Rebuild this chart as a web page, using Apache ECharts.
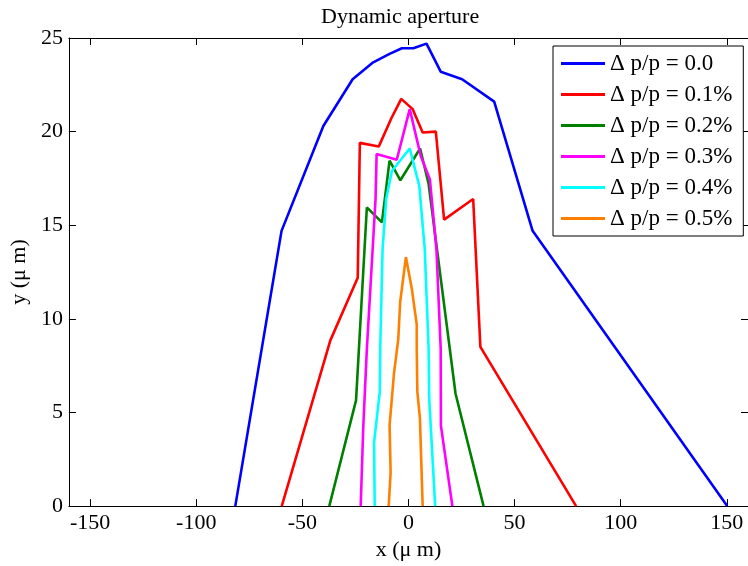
<!DOCTYPE html>
<html>
<head>
<meta charset="utf-8">
<script src="https://cdn.jsdelivr.net/npm/echarts@6/dist/echarts.min.js"></script>
<style>html,body{margin:0;padding:0;background:#fff}#c{width:748px;height:566px}</style>
</head>
<body>
<div id="c"></div>
<script>
var seriesNames = ['\u0394 p/p = 0.0', '\u0394 p/p = 0.1%', '\u0394 p/p = 0.2%', '\u0394 p/p = 0.3%', '\u0394 p/p = 0.4%', '\u0394 p/p = 0.5%'];
var dp00 = [[-81.6,0],[-59.8,14.7],[-40.1,20.3],[-26.3,22.8],[-16.6,23.7],[-8.9,24.15],[-3.1,24.45],[2.3,24.45],[8.5,24.7],[15.2,23.2],[25.3,22.8],[40.4,21.6],[58.5,14.7],[150.2,0]];
var dp01 = [[-59.7,0],[-36.8,8.85],[-23.9,12.2],[-22.9,19.4],[-14,19.2],[-8.1,20.7],[-3.4,21.75],[2,21.2],[6.7,19.95],[12.9,20],[16.8,15.3],[30.5,16.4],[33.9,8.5],[79,0]];
var dp02 = [[-37.3,0],[-24.7,5.65],[-19.6,15.95],[-12.5,15.15],[-8.9,18.45],[-3.8,17.4],[5.5,19.1],[9.5,17.2],[22.2,6.0],[35.4,0]];
var dp03 = [[-22.5,0],[-21.3,4.2],[-19.6,8.4],[-15.5,16.4],[-15,18.8],[-5.5,18.5],[0.6,21.2],[5.8,18.7],[10.1,17.45],[13.2,13.7],[15.2,8.4],[15.3,4.3],[20.7,0]];
var dp04 = [[-15.9,0],[-16.2,3.4],[-13.5,6.1],[-13.3,8.4],[-12.2,13.7],[-10.5,16.4],[-7.8,17.9],[0.6,19.1],[5.1,17.1],[7.7,13.7],[9.5,8.4],[9.8,5.7],[12.6,0]];
var dp05 = [[-9.3,0],[-8.4,1.8],[-8.9,4.3],[-6.8,7.1],[-4.8,8.9],[-3.9,10.9],[-1.2,13.3],[1.6,11.6],[3.9,9.7],[3.9,8.4],[4.2,6.1],[5.4,4.7],[6.7,0]];
var seriesData = [dp00, dp01, dp02, dp03, dp04, dp05];
var colors = ['#0000ff', '#ff0000', '#008000', '#ff00ff', '#00ffff', '#ff8000'];
var xTicks = [-150, -100, -50, 0, 50, 100, 150];
var yTicks = [0, 5, 10, 15, 20, 25];
var xRange = [-160, 160];
var yRange = [0, 25];

var font = 'Liberation Serif, Times New Roman, serif';
var chart = echarts.init(document.getElementById('c'));
var axLine = {show: true, onZero: false, lineStyle: {color: '#000', width: 1}};
var series = seriesData.map(function (d, i) {
  return {
    name: seriesNames[i], type: 'line', data: d, xAxisIndex: 0, yAxisIndex: 0,
    symbol: 'none', showSymbol: false, clip: true,
    lineStyle: {color: colors[i], width: 2.6}, itemStyle: {color: colors[i]}
  };
});
chart.setOption({
  animation: false,
  backgroundColor: '#fff',
  title: {text: 'Dynamic aperture', left: 321, top: 6, padding: 0,
    textStyle: {fontFamily: font, fontSize: 22, fontWeight: 'normal', color: '#000'}},
  grid: {left: 65, top: 38, right: -4, bottom: 58, show: false},
  legend: {
    orient: 'vertical', left: 553, top: 46, padding: [6, 11, 6, 8],
    borderColor: '#000', borderWidth: 1, backgroundColor: '#fff',
    icon: 'rect', itemWidth: 44, itemHeight: 3, itemGap: 8,
    textStyle: {fontFamily: font, fontSize: 23, color: '#000', lineHeight: 22},
    data: seriesNames
  },
  xAxis: [{
    type: 'value', min: xRange[0], max: xRange[1], position: 'bottom',
    name: 'x (\u03bc m)', nameLocation: 'middle', nameGap: 30,
    nameTextStyle: {fontFamily: font, fontSize: 22, color: '#000'},
    axisLine: axLine, splitLine: {show: false},
    axisTick: {show: true, inside: true, length: 7, customValues: xTicks, lineStyle: {color: '#000'}},
    axisLabel: {show: true, customValues: xTicks, fontFamily: font, fontSize: 22, color: '#000', margin: 6}
  }, {
    type: 'value', min: xRange[0], max: xRange[1], position: 'top',
    axisLine: axLine, splitLine: {show: false},
    axisTick: {show: true, inside: true, length: 7, customValues: xTicks, lineStyle: {color: '#000'}},
    axisLabel: {show: false}
  }],
  yAxis: [{
    type: 'value', min: yRange[0], max: yRange[1], interval: 5, position: 'left',
    name: 'y (\u03bc m)', nameLocation: 'middle', nameGap: 37,
    nameTextStyle: {fontFamily: font, fontSize: 22, color: '#000'},
    axisLine: axLine, splitLine: {show: false},
    axisTick: {show: true, inside: true, length: 7, lineStyle: {color: '#000'}},
    axisLabel: {show: true, fontFamily: font, fontSize: 22, color: '#000', margin: 6}
  }, {
    type: 'value', min: yRange[0], max: yRange[1], interval: 5, position: 'right',
    axisLine: axLine, splitLine: {show: false},
    axisTick: {show: true, inside: true, length: 7, lineStyle: {color: '#000'}},
    axisLabel: {show: false}
  }],
  series: series
});
</script>
</body>
</html>
